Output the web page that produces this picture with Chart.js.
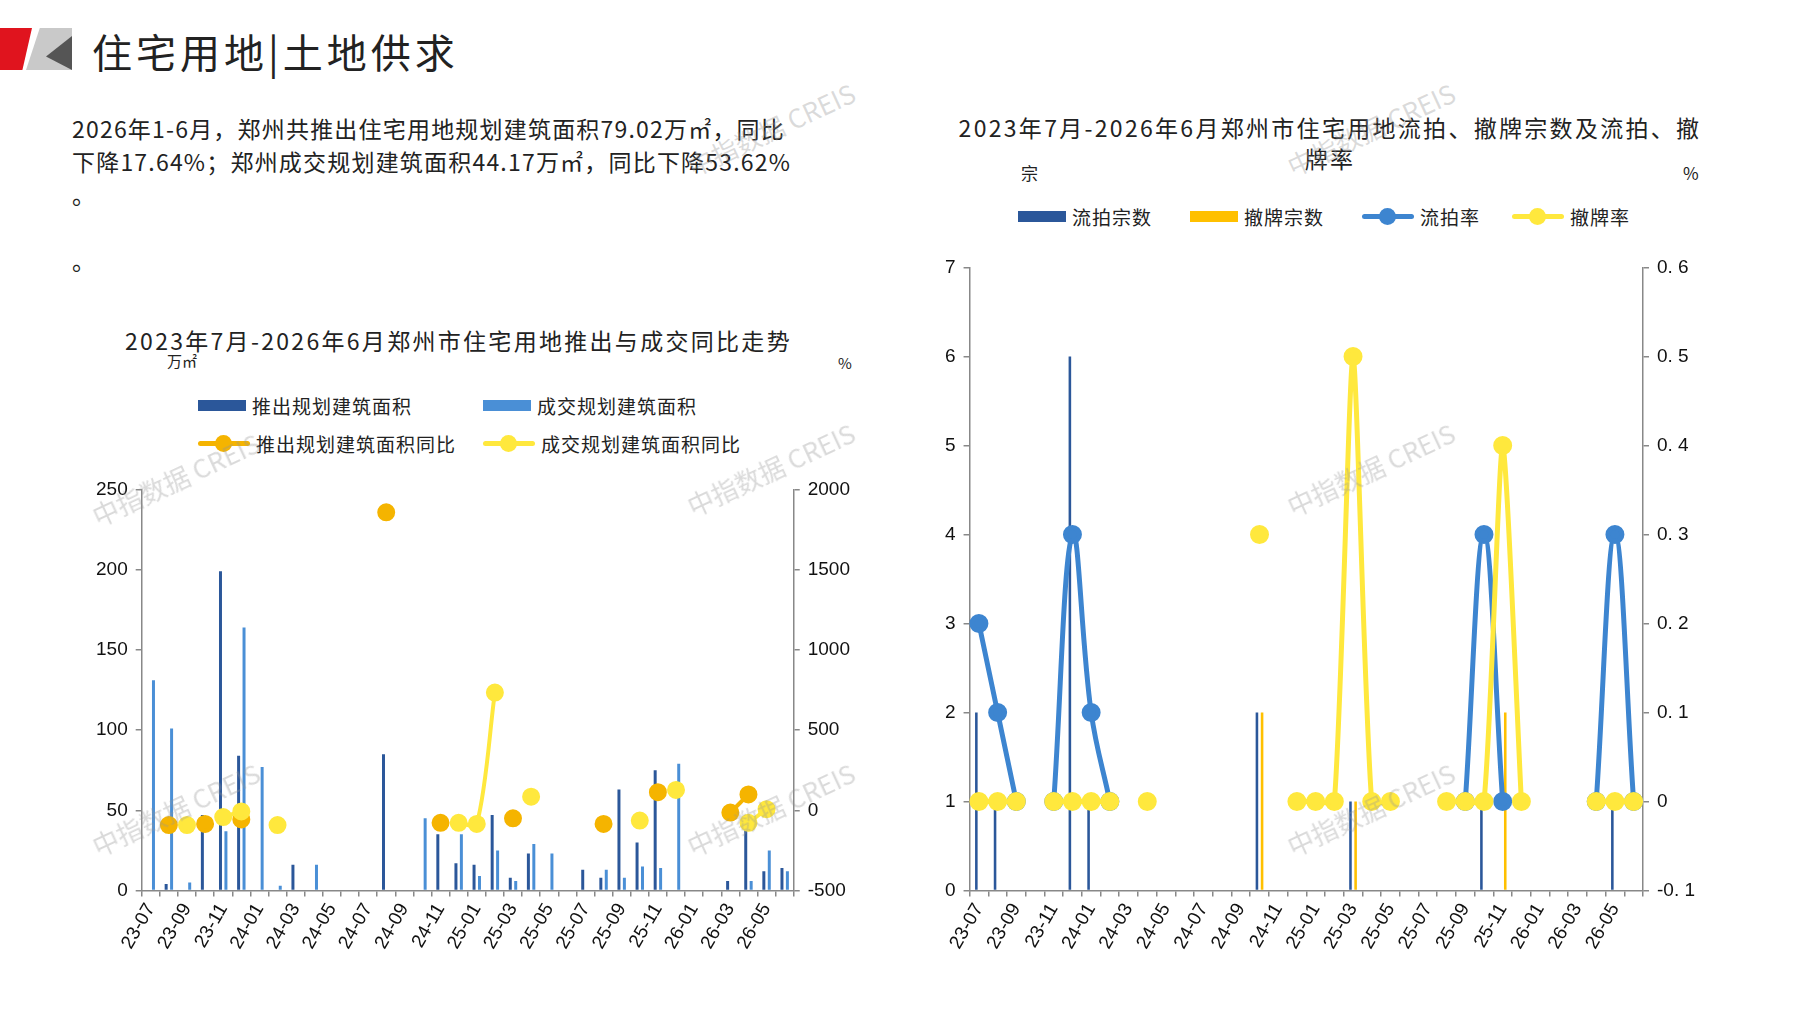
<!DOCTYPE html>
<html><head><meta charset="utf-8">
<script src="https://cdn.jsdelivr.net/npm/chart.js@4"></script>
<style>
body{margin:0;width:1797px;height:1010px;background:#fff;font-family:"Noto Sans CJK SC","Noto Sans",sans-serif;position:relative;overflow:hidden;color:#222}
.abs{position:absolute}
.wm{position:absolute;color:rgba(150,150,150,0.35);font-size:26px;transform:rotate(-25deg);font-family:"Noto Sans CJK SC";white-space:nowrap;pointer-events:none;z-index:5}
.leg{position:absolute;font-size:19px;display:flex;align-items:center;white-space:nowrap;letter-spacing:1px}
.sw{display:inline-block;width:48px;height:11px;margin-right:6px}
.ln{display:inline-block;width:52px;height:5px;margin-right:6px;position:relative;border-radius:3px}
.ln i{position:absolute;left:17px;top:-6px;width:17px;height:17px;border-radius:50%}
</style></head><body>
<div class="abs" style="left:0;top:28px;width:32px;height:42px;background:#e0141e;clip-path:polygon(0 0,100% 0,70% 100%,0 100%)"></div>
<div class="abs" style="left:26px;top:28px;width:46px;height:42px;background:#c9c9c9;clip-path:polygon(30% 0,100% 0,100% 100%,0 100%)"></div>
<div class="abs" style="left:46px;top:36px;width:26px;height:34px;background:#555;clip-path:polygon(100% 0,100% 100%,0 60%)"></div>
<div class="abs" style="left:92px;top:22px;font-size:40px;letter-spacing:4px">住宅用地|土地供求</div>
<div class="abs" style="left:72px;top:112px;width:900px;font-size:23px;line-height:33px;letter-spacing:1.2px">2026年1-6月，郑州共推出住宅用地规划建筑面积79.02万㎡，同比<br>下降17.64%；郑州成交规划建筑面积44.17万㎡，同比下降53.62%<br>。<br><br>。</div>
<div class="abs" style="left:125px;top:323px;font-size:23px;letter-spacing:2.3px">2023年7月-2026年6月郑州市住宅用地推出与成交同比走势</div>
<div class="abs" style="left:167px;top:350px;font-size:15px">万㎡</div>
<div class="abs" style="left:838px;top:352px;font-size:15px">%</div>
<div class="leg" style="left:198px;top:392px"><span class="sw" style="background:#2b579a"></span>推出规划建筑面积</div>
<div class="leg" style="left:483px;top:392px"><span class="sw" style="background:#4a8fd6"></span>成交规划建筑面积</div>
<div class="leg" style="left:198px;top:430px"><span class="ln" style="background:#f5b400"><i style="background:#f5b400"></i></span>推出规划建筑面积同比</div>
<div class="leg" style="left:483px;top:430px"><span class="ln" style="background:#ffe83d"><i style="background:#ffe83d"></i></span>成交规划建筑面积同比</div>

<div class="abs" style="left:900px;top:112px;font-size:23px;width:860px;text-align:center;line-height:31px;letter-spacing:2.3px">2023年7月-2026年6月郑州市住宅用地流拍、撤牌宗数及流拍、撤<br>牌率</div>
<div class="abs" style="left:1021px;top:160px;font-size:17px">宗</div>
<div class="abs" style="left:1683px;top:160px;font-size:17px">%</div>
<div class="leg" style="left:1018px;top:203px"><span class="sw" style="background:#2b579a"></span>流拍宗数</div>
<div class="leg" style="left:1190px;top:203px"><span class="sw" style="background:#ffc000"></span>撤牌宗数</div>
<div class="leg" style="left:1362px;top:203px"><span class="ln" style="background:#3d85d0"><i style="background:#3d85d0"></i></span>流拍率</div>
<div class="leg" style="left:1512px;top:203px"><span class="ln" style="background:#ffe83d"><i style="background:#ffe83d"></i></span>撤牌率</div>

<div class="wm" style="left:85px;top:460px">中指数据 CREIS</div>
<div class="wm" style="left:85px;top:790px">中指数据 CREIS</div>
<div class="wm" style="left:680px;top:110px">中指数据 CREIS</div>
<div class="wm" style="left:680px;top:450px">中指数据 CREIS</div>
<div class="wm" style="left:680px;top:790px">中指数据 CREIS</div>
<div class="wm" style="left:1280px;top:110px">中指数据 CREIS</div>
<div class="wm" style="left:1280px;top:450px">中指数据 CREIS</div>
<div class="wm" style="left:1280px;top:790px">中指数据 CREIS</div>

<div class="abs" style="left:88px;top:470px;width:770px;height:486px"><canvas id="c1"></canvas></div>
<div class="abs" style="left:937px;top:248px;width:766px;height:708px"><canvas id="c2"></canvas></div>
<script>
const months=["23-07","23-08","23-09","23-10","23-11","23-12","24-01","24-02","24-03","24-04","24-05","24-06","24-07","24-08","24-09","24-10","24-11","24-12","25-01","25-02","25-03","25-04","25-05","25-06","25-07","25-08","25-09","25-10","25-11","25-12","26-01","26-02","26-03","26-04","26-05","26-06"];
const N=null;
// left chart
const supplyArea=[0,4,0,47,199,84,0,0,16,0,0,0,0,85,0,0,35,17,16,47,8,23,0,0,13,8,63,30,75,0,0,0,6,38,12,14];
const dealArea=[131,101,5,0,37,164,77,3,0,16,0,0,0,0,0,45,0,35,9,25,6,29,23,0,0,13,8,15,14,79,0,0,0,6,25,12];
const supplyYoY=[N,-92,N,-85,N,-57,N,N,N,N,N,N,N,1857,N,N,-78,N,N,N,-50,N,N,N,N,-85,N,N,113,N,N,N,-14,99,N,N];
const dealYoY=[N,N,-92,N,-42,-7,N,-92,N,N,N,N,N,N,N,N,N,-78,-85,734,N,85,N,N,N,N,N,-64,N,127,N,N,N,-78,7,N];
// right chart
const unsoldCount=[2,1,0,0,0,6,1,0,0,0,0,0,0,0,0,2,0,0,0,0,1,0,0,0,0,0,0,1,0,0,0,0,0,0,1,0];
const withdrawnCount=[0,0,0,0,0,0,0,0,0,0,0,0,0,0,0,2,0,0,0,0,1,0,0,0,0,0,0,0,2,0,0,0,0,0,0,0];
const unsoldRate=[0.2,0.1,0,N,0,0.3,0.1,0,N,N,N,N,N,N,N,N,N,N,N,N,N,N,N,N,N,N,0,0.3,0,N,N,N,N,0,0.3,0];
const withdrawnRate=[0,0,0,N,0,0,0,0,N,0,N,N,N,N,N,0.3,N,0,0,0,0.5,0,0,N,N,0,0,0,0.4,0,N,N,N,0,0,0];

const F='"Liberation Sans","Noto Sans",sans-serif';
Chart.defaults.font.family=F;Chart.defaults.color='#111';
const axisX={offset:true,grid:{display:true,drawOnChartArea:false,offset:true,color:'#888',tickLength:6,lineWidth:1.5},border:{color:'#888',width:1.5},
 ticks:{maxRotation:60,minRotation:60,autoSkip:false,font:{size:19},callback:function(v,i){return i%2===0?this.getLabelForValue(v):''}}};
const tk={display:true,drawOnChartArea:false,color:'#888',tickLength:6,lineWidth:1.5};
new Chart(document.getElementById('c1'),{
 data:{labels:months,datasets:[
  {type:'line',label:'推出规划建筑面积同比',data:supplyYoY,yAxisID:'y1',borderColor:'#f5b400',backgroundColor:'#f5b400',borderWidth:4,pointRadius:7,pointHoverRadius:7,tension:0.3,order:1},
  {type:'line',label:'成交规划建筑面积同比',data:dealYoY,yAxisID:'y1',borderColor:'#ffe83d',backgroundColor:'#ffe83d',borderWidth:4,pointRadius:7,pointHoverRadius:7,tension:0.3,order:0},
  {type:'bar',label:'推出规划建筑面积',data:supplyArea,yAxisID:'y',backgroundColor:'#2b579a',categoryPercentage:0.6,barPercentage:0.55,order:3},
  {type:'bar',label:'成交规划建筑面积',data:dealArea,yAxisID:'y',backgroundColor:'#4a8fd6',categoryPercentage:0.6,barPercentage:0.55,order:3}]},
 options:{responsive:true,maintainAspectRatio:false,animation:false,plugins:{legend:{display:false},tooltip:{enabled:false}},
  layout:{padding:{top:10,right:0}},
  scales:{x:axisX,
   y:{min:0,max:250,ticks:{stepSize:50,padding:8,font:{size:19}},grid:tk,border:{color:'#888',width:1.5}},
   y1:{position:'right',min:-500,max:2000,ticks:{stepSize:500,padding:8,font:{size:19},callback:v=>String(v)},grid:tk,border:{color:'#888',width:1.5}}}}});
new Chart(document.getElementById('c2'),{
 data:{labels:months,datasets:[
  {type:'line',label:'撤牌率',data:withdrawnRate,yAxisID:'y1',borderColor:'#ffe83d',backgroundColor:'#ffe83d',borderWidth:5,pointRadius:7,pointHoverRadius:7,tension:0.2,order:0},
  {type:'line',label:'流拍率',data:unsoldRate,yAxisID:'y1',borderColor:'#3d85d0',backgroundColor:'#3d85d0',borderWidth:5,pointRadius:7,pointHoverRadius:7,tension:0.4,order:1},
  {type:'bar',label:'流拍宗数',data:unsoldCount,yAxisID:'y',backgroundColor:'#2b579a',categoryPercentage:0.55,barPercentage:0.5,order:3},
  {type:'bar',label:'撤牌宗数',data:withdrawnCount,yAxisID:'y',backgroundColor:'#ffc000',categoryPercentage:0.55,barPercentage:0.5,order:3}]},
 options:{responsive:true,maintainAspectRatio:false,animation:false,plugins:{legend:{display:false},tooltip:{enabled:false}},
  layout:{padding:{top:5}},
  scales:{x:axisX,
   y:{min:0,max:7,ticks:{stepSize:1,padding:8,font:{size:19}},grid:tk,border:{color:'#888',width:1.5}},
   y1:{position:'right',min:-0.1,max:0.6,ticks:{stepSize:0.1,padding:8,font:{size:19},callback:v=>{const r=Math.round(v*10)/10;return (r===0?'0':r.toFixed(1)).replace('.','. ')}},grid:tk,border:{color:'#888',width:1.5}}}}});
</script></body></html>
